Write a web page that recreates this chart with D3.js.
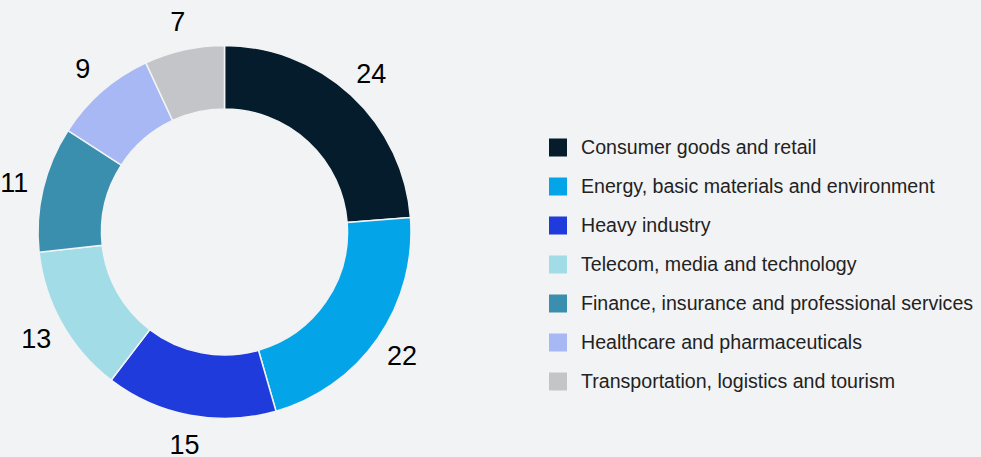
<!DOCTYPE html>
<html>
<head>
<meta charset="utf-8">
<script src="https://cdn.jsdelivr.net/npm/d3@7"></script>
<style>
  body { margin: 0; background: #f2f3f5; }
  svg { display: block; }
  text { font-family: "Liberation Sans", Arial, sans-serif; }
</style>
</head>
<body>
<svg id="chart" width="981" height="457"></svg>
<script>
var categories = [
  "Consumer goods and retail",
  "Energy, basic materials and environment",
  "Heavy industry",
  "Telecom, media and technology",
  "Finance, insurance and professional services",
  "Healthcare and pharmaceuticals",
  "Transportation, logistics and tourism"
];
var values = [24, 22, 15, 13, 11, 9, 7];
var colors = ["#051c2c", "#03a4e8", "#1f3bdc", "#a2dce6", "#3a8fae", "#a8b8f4", "#c4c5c8"];

var svg = d3.select("#chart");

var cx = 224.5, cy = 232, outerR = 186.5, innerR = 123, labelR = 216;

var pie = d3.pie().sort(null).value(function(d){ return d; });
var arc = d3.arc().innerRadius(innerR).outerRadius(outerR);
var labelArc = d3.arc().innerRadius(labelR).outerRadius(labelR);

var g = svg.append("g").attr("transform", "translate(" + cx + "," + cy + ")");

var arcs = pie(values);

g.selectAll("path")
  .data(arcs)
  .enter().append("path")
  .attr("d", arc)
  .attr("fill", function(d, i){ return colors[i]; })
  .attr("stroke", "#f2f3f5")
  .attr("stroke-width", 1.5);

// value labels round the ring
g.selectAll("text.val")
  .data(arcs)
  .enter().append("text")
  .attr("class", "val")
  .attr("transform", function(d){ return "translate(" + labelArc.centroid(d) + ")"; })
  .attr("text-anchor", "middle")
  .attr("dy", "0.35em")
  .attr("font-size", 27)
  .attr("fill", "#000")
  .text(function(d){ return d.data; });

// legend
var y = d3.scalePoint().domain(categories).range([147.5, 381.5]);

var legend = svg.append("g");
var item = legend.selectAll("g")
  .data(categories)
  .enter().append("g")
  .attr("transform", function(d){ return "translate(549," + y(d) + ")"; });

item.append("rect")
  .attr("x", 0).attr("y", -9)
  .attr("width", 18).attr("height", 18)
  .attr("fill", function(d, i){ return colors[i]; });

item.append("text")
  .attr("x", 32)
  .attr("dy", "0.35em")
  .attr("font-size", 19.6)
  .attr("fill", "#222")
  .text(function(d){ return d; });
</script>
</body>
</html>
